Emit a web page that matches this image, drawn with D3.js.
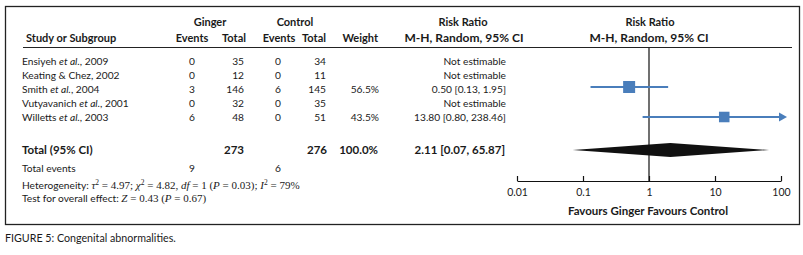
<!DOCTYPE html>
<html>
<head>
<meta charset="utf-8">
<script src="https://cdn.jsdelivr.net/npm/d3@7"></script>
<style>
  body { margin: 0; background: #fff; }
  text { font-family: Lato, "Open Sans", sans-serif; fill: #1a1a1a; }
</style>
</head>
<body>
<div id="forest"></div>
<script>
// study data
const studies = ["Ensiyeh", "Keating & Chez, 2002", "Smith", "Vutyavanich", "Willetts"];
const studyEtAl = [true, false, true, true, true];
const studyYears = ["2009", "", "2004", "2001", "2003"];
const gingerEvents = [0, 0, 3, 0, 6];
const gingerTotal = [35, 12, 146, 32, 48];
const controlEvents = [0, 0, 6, 0, 0];
const controlTotal = [34, 11, 145, 35, 51];
const weights = [null, null, 56.5, null, 43.5];
const rr = [null, null, 0.50, null, 13.80];
const rrLow = [null, null, 0.13, null, 0.80];
const rrHigh = [null, null, 1.95, null, 238.46];

const total = {ginger: 273, control: 276, weight: 100.0, rr: 2.11, lo: 0.07, hi: 65.87,
               gingerEvents: 9, controlEvents: 6};
const axisTicks = [0.01, 0.1, 1, 10, 100];

const width = 803, height = 255;

const svg = d3.select("#forest")
  .append("svg")
  .attr("width", width)
  .attr("height", height);

// frame
svg.append("rect")
  .attr("x", 5.5).attr("y", 6.5)
  .attr("width", 794).attr("height", 218)
  .attr("fill", "none").attr("stroke", "#222").attr("stroke-width", 1.3);

// scales
const x = d3.scaleLog().domain([0.01, 100]).range([517, 781]);
const rowY = d3.scaleLinear().domain([0, 1]).range([61, 75]);
const size = d3.scaleSqrt().domain([0, 56.5]).range([0, 12]);

// headers
const hdr = svg.append("g").style("font-weight", "bold").style("font-size", "11px");
hdr.append("text").attr("x", 210).attr("y", 26).attr("text-anchor", "middle").text("Ginger");
hdr.append("text").attr("x", 295).attr("y", 26).attr("text-anchor", "middle").text("Control");
hdr.append("text").attr("x", 463).attr("y", 26).attr("text-anchor", "middle").text("Risk Ratio");
hdr.append("text").attr("x", 650).attr("y", 26).attr("text-anchor", "middle").text("Risk Ratio");
hdr.append("text").attr("x", 26).attr("y", 42).text("Study or Subgroup");
hdr.append("text").attr("x", 192).attr("y", 42).attr("text-anchor", "middle").text("Events");
hdr.append("text").attr("x", 246).attr("y", 42).attr("text-anchor", "end").text("Total");
hdr.append("text").attr("x", 279).attr("y", 42).attr("text-anchor", "middle").text("Events");
hdr.append("text").attr("x", 326).attr("y", 42).attr("text-anchor", "end").text("Total");
hdr.append("text").attr("x", 378).attr("y", 42).attr("text-anchor", "end").text("Weight");
hdr.append("text").attr("x", 464).attr("y", 42).attr("text-anchor", "middle")
  .style("font-size", "12px").text("M-H, Random, 95% CI");
hdr.append("text").attr("x", 649).attr("y", 42).attr("text-anchor", "middle")
  .style("font-size", "12px").text("M-H, Random, 95% CI");

svg.append("line")
  .attr("x1", 23).attr("x2", 792).attr("y1", 47.5).attr("y2", 47.5)
  .attr("stroke", "#222").attr("stroke-width", 1.2);

// study rows
const rows = svg.append("g").style("font-size", "10.2px");
studies.forEach(function(s, i) {
  const y = rowY(i) + 3.5;
  const t = rows.append("text").attr("x", 22).attr("y", y);
  if (studyEtAl[i]) {
    t.append("tspan").text(s + " ");
    t.append("tspan").style("font-style", "italic").text("et al.");
    t.append("tspan").text(", " + studyYears[i]);
  } else {
    t.text(s);
  }
  rows.append("text").attr("x", 192).attr("y", y).attr("text-anchor", "middle").text(gingerEvents[i]);
  rows.append("text").attr("x", 244).attr("y", y).attr("text-anchor", "end").text(gingerTotal[i]);
  rows.append("text").attr("x", 278).attr("y", y).attr("text-anchor", "middle").text(controlEvents[i]);
  rows.append("text").attr("x", 326).attr("y", y).attr("text-anchor", "end").text(controlTotal[i]);
  if (weights[i] != null)
    rows.append("text").attr("x", 379).attr("y", y).attr("text-anchor", "end").text(weights[i].toFixed(1) + "%");
  const est = rr[i] == null ? "Not estimable"
    : rr[i].toFixed(2) + " [" + rrLow[i].toFixed(2) + ", " + rrHigh[i].toFixed(2) + "]";
  rows.append("text").attr("x", 506).attr("y", y).attr("text-anchor", "end").text(est);
});

// line of no effect
svg.append("line")
  .attr("x1", x(1)).attr("x2", x(1)).attr("y1", 48).attr("y2", 181)
  .attr("stroke", "#111").attr("stroke-width", 1.2);

// CI lines and squares
const blue = "#4a7ebb";
const marks = svg.append("g");
rr.forEach(function(v, i) {
  if (v == null) return;
  const y = rowY(i) + (i == 2 ? -2 : 0);
  const over = rrHigh[i] > 100;
  const xEnd = over ? x(100) - 2 : x(rrHigh[i]);
  marks.append("line")
    .attr("x1", x(rrLow[i])).attr("x2", xEnd).attr("y1", y).attr("y2", y)
    .attr("stroke", blue).attr("stroke-width", 1.8);
  if (over) {
    marks.append("path")
      .attr("d", `M${xEnd},${y - 4.5}L${xEnd + 8},${y}L${xEnd},${y + 4.5}Z`)
      .attr("fill", blue);
  }
  const s = size(weights[i]);
  marks.append("rect")
    .attr("x", x(v) - s / 2).attr("y", y - s / 2)
    .attr("width", s).attr("height", s)
    .attr("fill", blue);
});

// total row
const yTot = 150;
const tot = svg.append("g").style("font-weight", "bold").style("font-size", "11.5px");
tot.append("text").attr("x", 22).attr("y", yTot + 4).text("Total (95% CI)");
tot.append("text").attr("x", 244).attr("y", yTot + 4).attr("text-anchor", "end").text(total.ginger);
tot.append("text").attr("x", 327).attr("y", yTot + 4).attr("text-anchor", "end").text(total.control);
tot.append("text").attr("x", 378).attr("y", yTot + 4).attr("text-anchor", "end").text(total.weight.toFixed(1) + "%");
tot.append("text").attr("x", 505).attr("y", yTot + 4).attr("text-anchor", "end")
  .text(total.rr.toFixed(2) + " [" + total.lo.toFixed(2) + ", " + total.hi.toFixed(2) + "]");

svg.append("path")
  .attr("d", `M${x(total.lo)},${yTot}L${x(total.rr)},${yTot - 7}L${x(total.hi)},${yTot}L${x(total.rr)},${yTot + 7}Z`)
  .attr("fill", "#111");

// footer text
const foot = svg.append("g").style("font-size", "10.2px");
foot.append("text").attr("x", 22).attr("y", 171.5).text("Total events");
foot.append("text").attr("x", 192).attr("y", 171.5).attr("text-anchor", "middle").text(total.gingerEvents);
foot.append("text").attr("x", 278).attr("y", 171.5).attr("text-anchor", "middle").text(total.controlEvents);

const serif = "'Liberation Serif', 'DejaVu Serif', serif";
const het = foot.append("text").attr("x", 22).attr("y", 188.5);
het.append("tspan").text("Heterogeneity: ");
const hs = het.append("tspan").style("font-family", serif).style("font-size", "11px");
hs.append("tspan").style("font-style", "italic").text("τ");
hs.append("tspan").attr("dy", -3.5).style("font-size", "7.5px").text("2");
hs.append("tspan").attr("dy", 3.5).text(" = 4.97; ");
hs.append("tspan").style("font-style", "italic").text("χ");
hs.append("tspan").attr("dy", -3.5).style("font-size", "7.5px").text("2");
hs.append("tspan").attr("dy", 3.5).text(" = 4.82, ");
hs.append("tspan").style("font-style", "italic").text("df");
hs.append("tspan").text(" = 1 (");
hs.append("tspan").style("font-style", "italic").text("P");
hs.append("tspan").text(" = 0.03); ");
hs.append("tspan").style("font-style", "italic").text("I");
hs.append("tspan").attr("dy", -3.5).style("font-size", "7.5px").text("2");
hs.append("tspan").attr("dy", 3.5).text(" = 79%");

const tst = foot.append("text").attr("x", 22).attr("y", 201.5);
tst.append("tspan").text("Test for overall effect: ");
const ts = tst.append("tspan").style("font-family", serif).style("font-size", "11px");
ts.append("tspan").style("font-style", "italic").text("Z");
ts.append("tspan").text(" = 0.43 (");
ts.append("tspan").style("font-style", "italic").text("P");
ts.append("tspan").text(" = 0.67)");

// axis
const axis = svg.append("g")
  .attr("transform", "translate(0,181)")
  .call(d3.axisBottom(x).tickValues(axisTicks).tickSizeInner(-5).tickSizeOuter(0).tickPadding(8)
    .tickFormat(d => String(d)));
axis.select(".domain").attr("stroke", "#111").attr("stroke-width", 1.2);
axis.selectAll(".tick line").attr("stroke", "#111").attr("stroke-width", 1.2);
axis.selectAll(".tick text").style("font-family", "Lato, sans-serif").style("font-size", "10.5px").attr("fill", "#1a1a1a");

svg.append("text")
  .attr("x", 648).attr("y", 214.5).attr("text-anchor", "middle")
  .style("font-weight", "bold").style("font-size", "11.5px")
  .text("Favours Ginger Favours Control");

// caption
svg.append("text")
  .attr("x", 5).attr("y", 242)
  .style("font-size", "10.7px")
  .text("FIGURE 5: Congenital abnormalities.");
</script>
</body>
</html>
